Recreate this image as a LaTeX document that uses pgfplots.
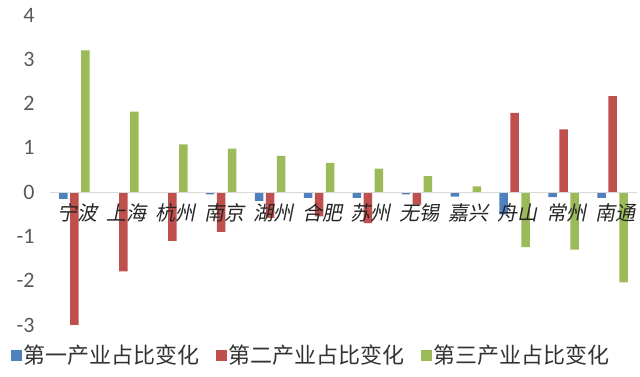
\documentclass[border=0pt]{standalone}
\usepackage{pgfplots}
\pgfplotsset{compat=1.18}
\usepackage{fontspec}
\setmainfont{Carlito}
\newfontfamily\cjk{Noto Sans CJK SC}
\newfontfamily\cjkit{Noto Sans CJK SC}[FakeSlant=0.2]
\definecolor{cblue}{HTML}{4F81BD}
\definecolor{cred}{HTML}{C0504D}
\definecolor{cgreen}{HTML}{9BBB59}
\definecolor{tickgray}{HTML}{595959}
\definecolor{linegray}{HTML}{D9D9D9}
\begin{document}
\begin{tikzpicture}[x=1pt,y=1pt]
\useasboundingbox (0,0) rectangle (640,377);
\begin{axis}[
  at={(50pt,52pt)}, anchor=south west,
  scale only axis, width=587pt, height=310pt,
  xmin=-0.5, xmax=11.5, ymin=-3, ymax=4,
  enlargelimits=false,
  axis on top,
  axis x line=middle, axis y line=left,
  x axis line style={-, draw=linegray, line width=1.2pt},
  y axis line style={draw=none},
  major tick length=0pt,
  xtick={0,...,11},
  xticklabels={宁波,上海,杭州,南京,湖州,合肥,苏州,无锡,嘉兴,舟山,常州,南通},
  xticklabel style={font=\cjkit\fontsize{20}{20}\selectfont, text=black!85, yshift=-8pt, xshift=3pt},
  ytick={-3,...,4},
  yticklabels={-3,-2,-1,0,1,2,3,4},
  yticklabel style={font=\fontsize{22}{22}\selectfont, text=tickgray, xshift=-12pt},
  ybar=2.5pt, bar width=8.5pt,
  legend columns=3,
  legend image code/.code={\fill[#1,draw=none] (0pt,-6pt) rectangle (11pt,5pt);},
  legend style={draw=none, fill=none, at={(0.445,-0.097)}, anchor=center,
    font=\cjk\fontsize{22}{22}\selectfont, text=black!80,
    /tikz/every even column/.append style={column sep=14pt}},
]
\addplot[fill=cblue, draw=none] coordinates {(0,-0.15) (1,0) (2,0) (3,-0.05) (4,-0.2) (5,-0.13) (6,-0.13) (7,-0.05) (8,-0.1) (9,-0.5) (10,-0.11) (11,-0.13)};
\addplot[fill=cred, draw=none] coordinates {(0,-3.0) (1,-1.79) (2,-1.1) (3,-0.9) (4,-0.58) (5,-0.55) (6,-0.7) (7,-0.28) (8,0) (9,1.79) (10,1.42) (11,2.17)};
\addplot[fill=cgreen, draw=none] coordinates {(0,3.2) (1,1.82) (2,1.08) (3,0.98) (4,0.82) (5,0.66) (6,0.53) (7,0.36) (8,0.13) (9,-1.24) (10,-1.3) (11,-2.04)};
\legend{第一产业占比变化,第二产业占比变化,第三产业占比变化}
\end{axis}
\end{tikzpicture}
\end{document}
